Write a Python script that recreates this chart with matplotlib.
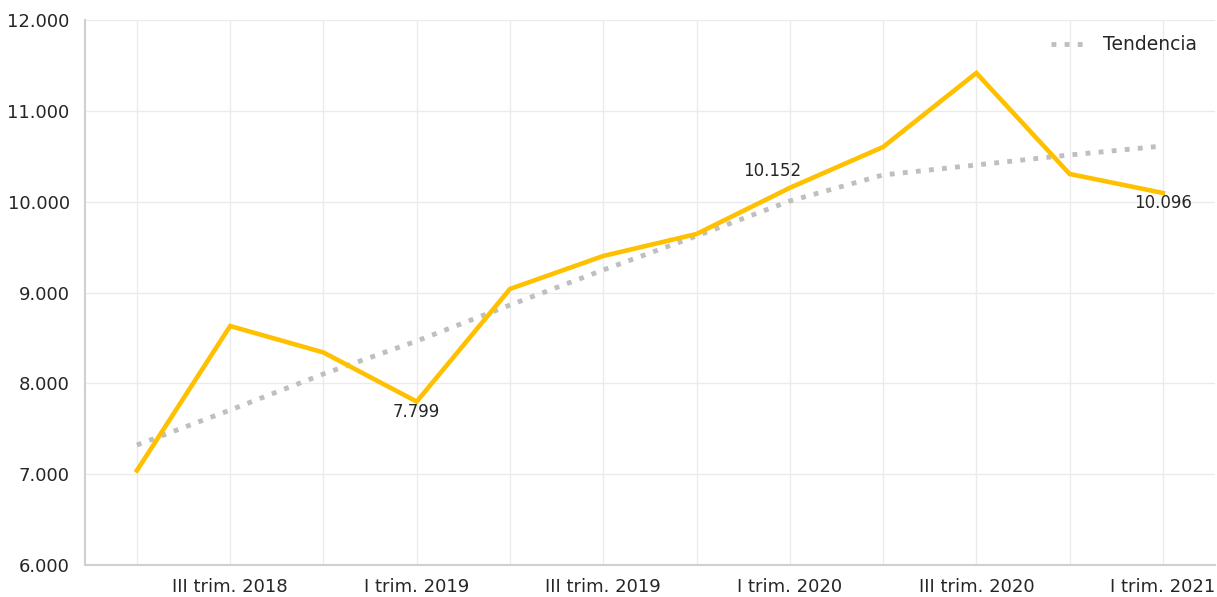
import matplotlib
matplotlib.use("Agg")
import matplotlib.pyplot as plt

quarters = ["II trim. 2018", "III trim. 2018", "IV trim. 2018", "I trim. 2019",
            "II trim. 2019", "III trim. 2019", "IV trim. 2019", "I trim. 2020",
            "II trim. 2020", "III trim. 2020", "IV trim. 2020", "I trim. 2021"]
values = [7040, 8631, 8340, 7799, 9039, 9402, 9644, 10152, 10602, 11417, 10305, 10096]
trend = [7321, 7706, 8103, 8466, 8862, 9248, 9622, 10007, 10294, 10404, 10514, 10613]
y_ticks = [6000, 7000, 8000, 9000, 10000, 11000, 12000]

def fmt(v):
    return f"{v:,}".replace(",", ".")

fig = plt.figure(figsize=(12.17, 5.97), dpi=100)
ax = fig.add_axes([0.0698, 0.0536, 0.9284, 0.9129])

x = list(range(len(quarters)))
ax.plot(x, values, color="#FFC000", linewidth=3.3, solid_joinstyle="miter", zorder=3)
ax.plot(x, trend, color="#BFBFBF", linewidth=3.5, linestyle=(0, (1.0, 1.7)),
        label="Tendencia", zorder=2)

# data labels
lab_kw = dict(textcoords="offset points", ha="center", fontsize=12, color="#262626")
ax.annotate(fmt(values[3]), (3, values[3]), xytext=(0, -1), va="top", **lab_kw)
ax.annotate(fmt(values[7]), (7, values[7]), xytext=(-13, 6), va="bottom", **lab_kw)
ax.annotate(fmt(values[11]), (11, values[11]), xytext=(0, -1), va="top", **lab_kw)

ax.set_xlim(-0.557, 11.557)
ax.set_ylim(6000, 12000)
ax.set_yticks(y_ticks)
ax.set_yticklabels([fmt(v) for v in y_ticks], fontsize=13, color="#262626")
ax.set_xticks(x)
ax.set_xticklabels([q if i % 2 == 1 else "" for i, q in enumerate(quarters)],
                   fontsize=13, color="#262626")
ax.tick_params(axis="y", length=0, pad=11)
ax.tick_params(axis="x", length=0, pad=9)

ax.grid(True, color="#EBEBEB", linewidth=1)
ax.set_axisbelow(True)
for s in ["top", "right"]:
    ax.spines[s].set_visible(False)
for s in ["left", "bottom"]:
    ax.spines[s].set_color("#D0D0D0")
    ax.spines[s].set_linewidth(1.5)

leg = ax.legend(loc="upper right", frameon=False, fontsize=13.5, handlelength=1.75,
                handletextpad=1.0, bbox_to_anchor=(0.999, 1.003))
for t in leg.get_texts():
    t.set_color("#262626")

fig.savefig("out.png", dpi=100)
